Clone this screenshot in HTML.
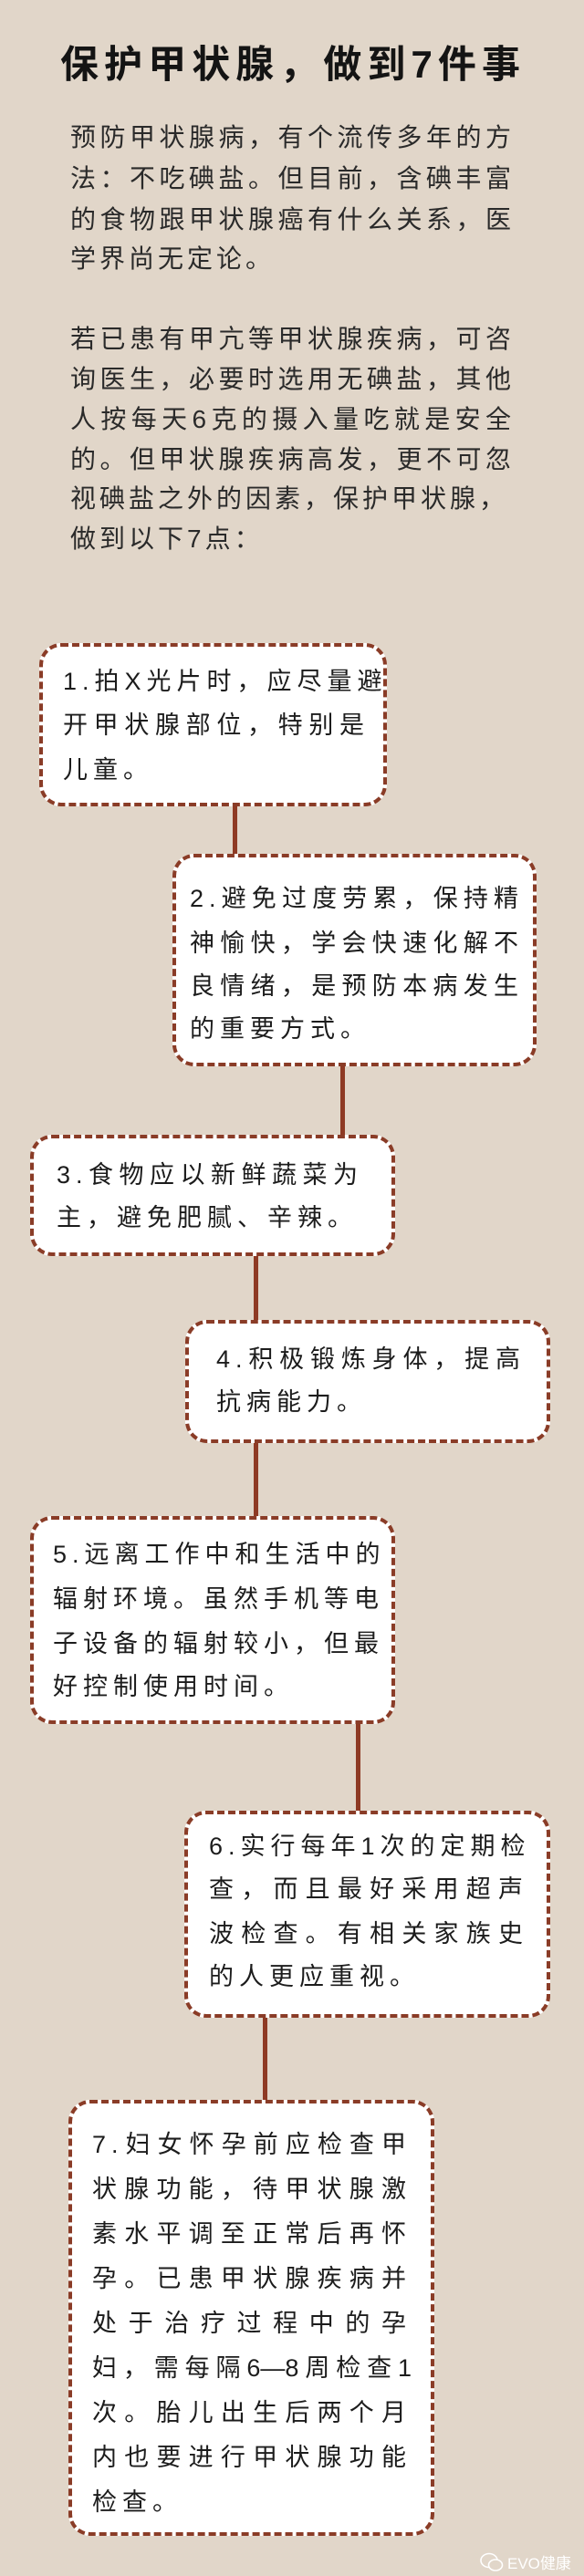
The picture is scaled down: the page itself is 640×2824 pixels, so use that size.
<!DOCTYPE html>
<html><head><meta charset="utf-8"><style>
*{margin:0;padding:0;box-sizing:border-box}
body{width:640px;height:2824px;background:#e1d6c9;position:relative;overflow:hidden;font-family:"Liberation Sans","Noto Sans CJK SC",sans-serif;color:#1e1e1e}
.t{position:absolute;white-space:nowrap}
.j{text-align:justify;text-align-last:justify}
.title{font-size:42px;font-weight:bold;left:66px;width:504px;top:44px;line-height:54px;color:#141414}
.p{font-size:28px;line-height:44px;left:77px;width:487px;letter-spacing:4px;color:#2a2a2a}
.box{position:absolute;background:#fff;border:4.5px dashed #8a3c27;border-radius:24px}
.ln{position:absolute;width:5px;background:#8e3a24}
.b{font-size:27px;line-height:48px;letter-spacing:6px;color:#1c1c1c}
</style></head><body>
<div class="t title j">保护甲状腺，做到7件事</div>

<div class="t p j" style="top:129px">预防甲状腺病，有个流传多年的方</div>
<div class="t p j" style="top:174px">法：不吃碘盐。但目前，含碘丰富</div>
<div class="t p j" style="top:219px">的食物跟甲状腺癌有什么关系，医</div>
<div class="t p" style="top:262px">学界尚无定论。</div>

<div class="t p j" style="top:350px">若已患有甲亢等甲状腺疾病，可咨</div>
<div class="t p j" style="top:394px">询医生，必要时选用无碘盐，其他</div>
<div class="t p j" style="top:438px">人按每天6克的摄入量吃就是安全</div>
<div class="t p j" style="top:482px">的。但甲状腺疾病高发，更不可忽</div>
<div class="t p" style="top:525px">视碘盐之外的因素，保护甲状腺，</div>
<div class="t p" style="top:569px">做到以下7点：</div>

<!-- connectors -->
<div class="ln" style="left:255px;top:880px;height:60px"></div>
<div class="ln" style="left:373px;top:1165px;height:82px"></div>
<div class="ln" style="left:278px;top:1373px;height:78px"></div>
<div class="ln" style="left:278px;top:1578px;height:88px"></div>
<div class="ln" style="left:390px;top:1886px;height:103px"></div>
<div class="ln" style="left:288px;top:2208px;height:98px"></div>

<!-- box1 -->
<div class="box" style="left:43px;top:705px;width:381px;height:179px"></div>
<div class="t b j" style="left:69px;width:336px;top:723px">1.拍X光片时，应尽量避</div>
<div class="t b j" style="left:69px;width:336px;top:771px">开甲状腺部位，特别是</div>
<div class="t b" style="left:69px;top:820px">儿童。</div>

<!-- box2 -->
<div class="box" style="left:189px;top:936px;width:399px;height:233px"></div>
<div class="t b j" style="left:208px;width:366px;top:961px">2.避免过度劳累，保持精</div>
<div class="t b j" style="left:208px;width:366px;top:1010px">神愉快，学会快速化解不</div>
<div class="t b j" style="left:208px;width:366px;top:1057px">良情绪，是预防本病发生</div>
<div class="t b" style="left:208px;top:1104px">的重要方式。</div>

<!-- box3 -->
<div class="box" style="left:33px;top:1244px;width:400px;height:133px"></div>
<div class="t b j" style="left:62px;width:336px;top:1264px">3.食物应以新鲜蔬菜为</div>
<div class="t b" style="left:62px;top:1311px">主，避免肥腻、辛辣。</div>

<!-- box4 -->
<div class="box" style="left:203px;top:1447px;width:400px;height:135px"></div>
<div class="t b j" style="left:237px;width:339px;top:1466px">4.积极锻炼身体，提高</div>
<div class="t b" style="left:237px;top:1513px">抗病能力。</div>

<!-- box5 -->
<div class="box" style="left:33px;top:1662px;width:400px;height:228px"></div>
<div class="t b j" style="left:58px;width:353px;top:1680px">5.远离工作中和生活中的</div>
<div class="t b j" style="left:58px;width:353px;top:1729px">辐射环境。虽然手机等电</div>
<div class="t b j" style="left:58px;width:353px;top:1778px">子设备的辐射较小，但最</div>
<div class="t b" style="left:58px;top:1825px">好控制使用时间。</div>

<!-- box6 -->
<div class="box" style="left:202px;top:1985px;width:401px;height:227px"></div>
<div class="t b j" style="left:229px;width:350px;top:2000px">6.实行每年1次的定期检</div>
<div class="t b j" style="left:229px;width:350px;top:2047px">查，而且最好采用超声</div>
<div class="t b j" style="left:229px;width:350px;top:2096px">波检查。有相关家族史</div>
<div class="t b" style="left:229px;top:2143px">的人更应重视。</div>

<!-- box7 -->
<div class="box" style="left:75px;top:2302px;width:401px;height:478px"></div>
<div class="t b j" style="left:101px;width:350px;top:2327px">7.妇女怀孕前应检查甲</div>
<div class="t b j" style="left:101px;width:350px;top:2376px">状腺功能，待甲状腺激</div>
<div class="t b j" style="left:101px;width:350px;top:2425px">素水平调至正常后再怀</div>
<div class="t b j" style="left:101px;width:350px;top:2474px">孕。已患甲状腺疾病并</div>
<div class="t b j" style="left:101px;width:350px;top:2523px">处于治疗过程中的孕</div>
<div class="t b j" style="left:101px;width:350px;top:2572px;letter-spacing:0">妇，需每隔6—8周检查1</div>
<div class="t b j" style="left:101px;width:350px;top:2621px">次。胎儿出生后两个月</div>
<div class="t b j" style="left:101px;width:350px;top:2670px">内也要进行甲状腺功能</div>
<div class="t b" style="left:101px;top:2719px">检查。</div>

<!-- logo -->
<svg style="position:absolute;left:526px;top:2798px" width="26" height="22" viewBox="0 0 26 22">
<ellipse cx="10" cy="9" rx="9" ry="7.5" fill="none" stroke="#fff" stroke-width="1.6"/>
<ellipse cx="17" cy="14" rx="7.5" ry="6" fill="#e1d6c9" stroke="#fff" stroke-width="1.6"/>
</svg>
<div class="t" style="left:556px;top:2800px;font-size:17px;line-height:22px;color:#fff">EVO健康</div>
</body></html>
